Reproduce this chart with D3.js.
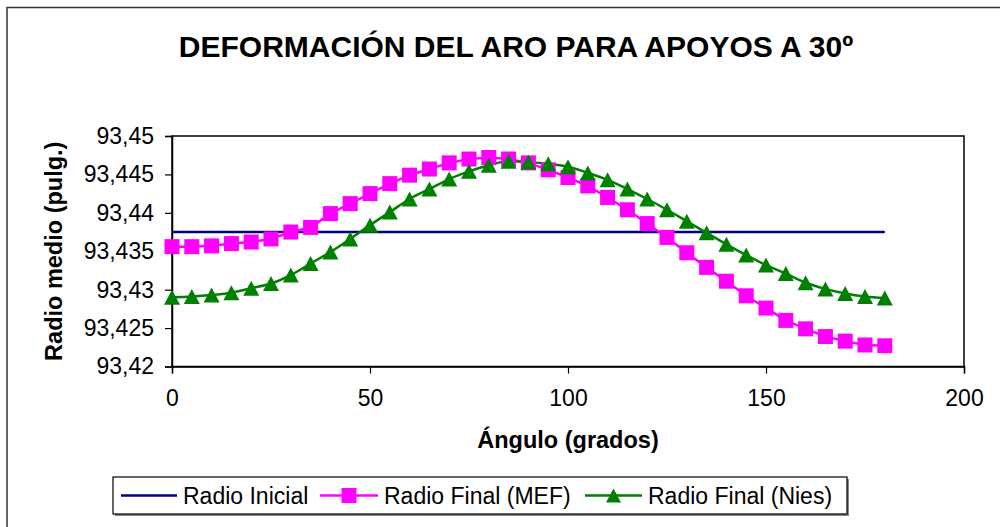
<!DOCTYPE html>
<html>
<head>
<meta charset="utf-8">
<script src="https://cdn.jsdelivr.net/npm/d3@7"></script>
<style>
  body { margin: 0; background: #fff; }
  svg text { font-family: "Liberation Sans", Arial, sans-serif; }
</style>
</head>
<body>
<svg id="chart" width="1000" height="527"></svg>
<script>
// Angles (grados)
var angles = [0, 5, 10, 15, 20, 25, 30, 35, 40, 45, 50, 55, 60, 65, 70, 75, 80, 85, 90,
              95, 100, 105, 110, 115, 120, 125, 130, 135, 140, 145, 150, 155, 160, 165, 170, 175, 180];

// Radio final, MEF
var radioMEF = [93.4356, 93.4356, 93.4357, 93.4360, 93.4362, 93.4366, 93.4375, 93.4381, 93.4399, 93.4412,
                93.4425, 93.4438, 93.4449, 93.4457, 93.4465, 93.4470, 93.4472, 93.4470, 93.4465, 93.4456,
                93.4446, 93.4435, 93.4420, 93.4404, 93.4386, 93.4368, 93.4348, 93.4329, 93.4311, 93.4292,
                93.4276, 93.4260, 93.4249, 93.4239, 93.4233, 93.4228, 93.4227];

// Radio final, Nies
var radioNies = [93.4290, 93.4291, 93.4293, 93.4296, 93.4302, 93.4308, 93.4319, 93.4334, 93.4349, 93.4366,
                 93.4384, 93.4401, 93.4418, 93.4431, 93.4444, 93.4454, 93.4462, 93.4467, 93.4466, 93.4464,
                 93.4460, 93.4452, 93.4443, 93.4431, 93.4418, 93.4404, 93.4389, 93.4374, 93.4359, 93.4345,
                 93.4332, 93.4321, 93.4309, 93.4301, 93.4295, 93.4291, 93.4289];

// Radio inicial (constant)
var radioInicial = 93.4375;

var xTicks = [0, 50, 100, 150, 200];
var yTicks = [93.42, 93.425, 93.43, 93.435, 93.44, 93.445, 93.45];

var svg = d3.select("#chart");

// outer frame
svg.append("rect")
    .attr("x", 7).attr("y", 7.5)
    .attr("width", 1000).attr("height", 530)
    .attr("fill", "none")
    .attr("stroke", "#333")
    .attr("stroke-width", 1.5);

var plotLeft = 172, plotRight = 964, plotTop = 136, plotBottom = 366.5;

var x = d3.scaleLinear().domain([0, 200]).range([plotLeft, plotRight]);
var y = d3.scaleLinear().domain([93.42, 93.45]).range([plotBottom, plotTop]);

// plot border
svg.append("rect")
    .attr("x", plotLeft).attr("y", plotTop)
    .attr("width", plotRight - plotLeft).attr("height", plotBottom - plotTop)
    .attr("fill", "none")
    .attr("stroke", "#000")
    .attr("stroke-width", 1.5);

var fmt = function (d) { return String(+d.toFixed(3)).replace(".", ","); };

// axes
var xAxis = svg.append("g")
    .attr("transform", "translate(0," + plotBottom + ")")
    .call(d3.axisBottom(x).tickValues(xTicks).tickSize(7).tickPadding(16).tickFormat(d3.format("d")));
var yAxis = svg.append("g")
    .attr("transform", "translate(" + plotLeft + ",0)")
    .call(d3.axisLeft(y).tickValues(yTicks).tickSize(7).tickPadding(11).tickFormat(fmt));

[xAxis, yAxis].forEach(function (g) {
    g.select(".domain").attr("stroke", "#000").attr("stroke-width", 1.5);
    g.selectAll(".tick line").attr("stroke", "#000").attr("stroke-width", 1.2);
    g.selectAll(".tick text")
        .attr("fill", "#000")
        .style("font-size", "23px")
        .style("font-family", "'Liberation Sans', Arial, sans-serif");
});

// Radio inicial line
svg.append("line")
    .attr("x1", x(angles[0])).attr("x2", x(angles[angles.length - 1]))
    .attr("y1", y(radioInicial)).attr("y2", y(radioInicial))
    .attr("stroke", "#000080")
    .attr("stroke-width", 2.5);

var line = d3.line()
    .x(function (d) { return x(d[0]); })
    .y(function (d) { return y(d[1]); });

var mefData = angles.map(function (a, i) { return [a, radioMEF[i]]; });
var niesData = angles.map(function (a, i) { return [a, radioNies[i]]; });

svg.append("path")
    .datum(mefData)
    .attr("d", line)
    .attr("fill", "none")
    .attr("stroke", "#ff00ff")
    .attr("stroke-width", 2.5);

svg.append("path")
    .datum(niesData)
    .attr("d", line.curve(d3.curveMonotoneX))
    .attr("fill", "none")
    .attr("stroke", "#008000")
    .attr("stroke-width", 2.5);

// triangle path centered on its bounding box
function triPath(w, h) {
    return "M0," + (-h / 2) + "L" + (w / 2) + "," + (h / 2) + "L" + (-w / 2) + "," + (h / 2) + "Z";
}

svg.selectAll("rect.mef")
    .data(mefData)
    .enter().append("rect")
    .attr("class", "mef")
    .attr("x", function (d) { return x(d[0]) - 7.5; })
    .attr("y", function (d) { return y(d[1]) - 7.5; })
    .attr("width", 15).attr("height", 15)
    .attr("fill", "#ff00ff");

svg.selectAll("path.nies")
    .data(niesData)
    .enter().append("path")
    .attr("class", "nies")
    .attr("d", triPath(16, 15))
    .attr("transform", function (d) { return "translate(" + x(d[0]) + "," + y(d[1]) + ")"; })
    .attr("fill", "#008000");

// titles
svg.append("text")
    .attr("x", 516).attr("y", 57)
    .attr("text-anchor", "middle")
    .style("font-size", "30px")
    .style("font-weight", "bold")
    .text("DEFORMACIÓN DEL ARO PARA APOYOS A 30º");

svg.append("text")
    .attr("x", (plotLeft + plotRight) / 2).attr("y", 448)
    .attr("text-anchor", "middle")
    .style("font-size", "23.5px")
    .style("font-weight", "bold")
    .text("Ángulo (grados)");

svg.append("text")
    .attr("transform", "translate(62," + ((plotTop + plotBottom) / 2) + ") rotate(-90)")
    .attr("text-anchor", "middle")
    .style("font-size", "23.5px")
    .style("font-weight", "bold")
    .text("Radio medio (pulg.)");

// legend
var lg = svg.append("g");
lg.append("rect")
    .attr("x", 115).attr("y", 479)
    .attr("width", 734).attr("height", 37)
    .attr("fill", "#888");
lg.append("rect")
    .attr("x", 113).attr("y", 477)
    .attr("width", 734).attr("height", 37)
    .attr("fill", "#fff")
    .attr("stroke", "#000")
    .attr("stroke-width", 1.2);

var legendItems = [
    { name: "Radio Inicial", color: "#000080", marker: null, x0: 121, x1: 177, tx: 183 },
    { name: "Radio Final (MEF)", color: "#ff00ff", marker: "square", x0: 320, x1: 378, tx: 384 },
    { name: "Radio Final (Nies)", color: "#008000", marker: "triangle", x0: 585, x1: 642, tx: 648 }
];

var ly = 495.5;
legendItems.forEach(function (it) {
    lg.append("line")
        .attr("x1", it.x0).attr("x2", it.x1)
        .attr("y1", ly).attr("y2", ly)
        .attr("stroke", it.color)
        .attr("stroke-width", 2.5);
    var cx = (it.x0 + it.x1) / 2;
    if (it.marker === "square") {
        lg.append("rect")
            .attr("x", cx - 7.5).attr("y", ly - 7.5)
            .attr("width", 15).attr("height", 15)
            .attr("fill", it.color);
    } else if (it.marker === "triangle") {
        lg.append("path")
            .attr("d", triPath(15, 14))
            .attr("transform", "translate(" + cx + "," + ly + ")")
            .attr("fill", it.color);
    }
    lg.append("text")
        .attr("x", it.tx).attr("y", ly + 8)
        .style("font-size", "23px")
        .text(it.name);
});
</script>
</body>
</html>
